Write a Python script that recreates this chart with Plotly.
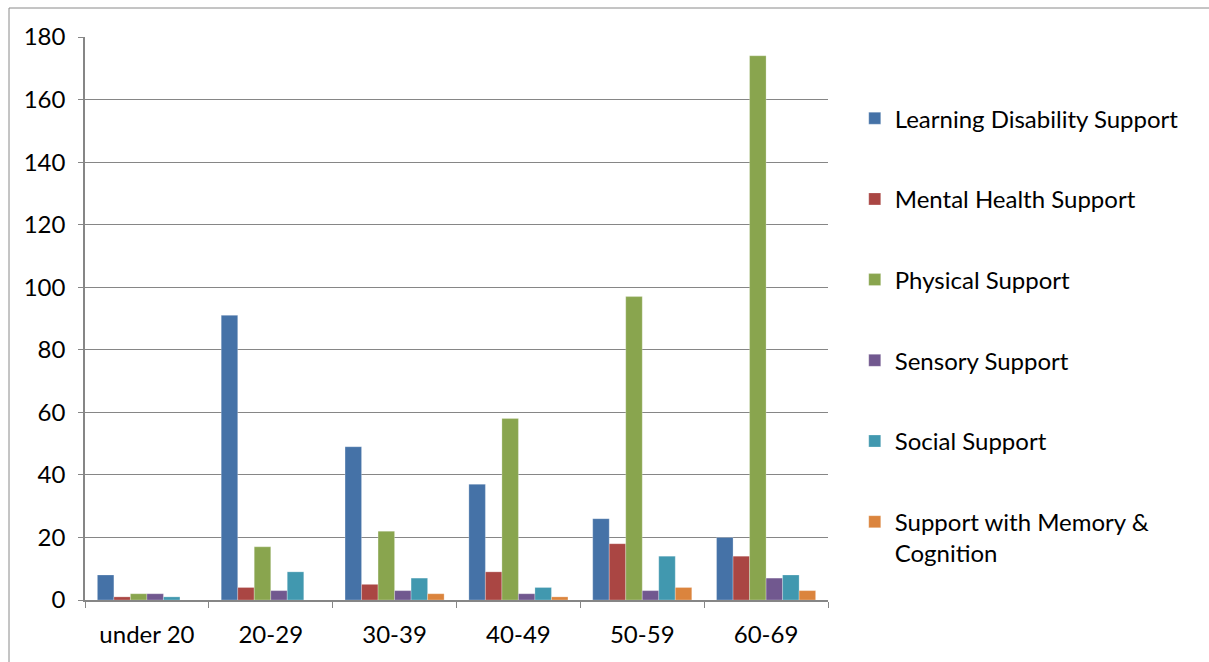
import plotly.graph_objects as go

# Age bands on the category axis
age_groups = ["under 20", "20-29", "30-39", "40-49", "50-59", "60-69"]

# Number of people per primary support reason, by age band
learning_disability = [8, 91, 49, 37, 26, 20]
mental_health = [1, 4, 5, 9, 18, 14]
physical = [2, 17, 22, 58, 97, 174]
sensory = [2, 3, 3, 2, 3, 7]
social = [1, 9, 7, 4, 14, 8]
memory_cognition = [0, 0, 2, 1, 4, 3]

series = [
    ("Learning Disability Support", learning_disability, "#4572A7"),
    ("Mental Health Support", mental_health, "#AA4643"),
    ("Physical Support", physical, "#89A54E"),
    ("Sensory Support", sensory, "#71588F"),
    ("Social Support", social, "#4198AF"),
    ("Support with Memory &<br>Cognition", memory_cognition, "#DB843D"),
]

W, H = 1209, 662
L, R, T, B = 85, 828, 37, 600

fig = go.Figure()
for i, (name, vals, color) in enumerate(series):
    fig.add_trace(go.Bar(
        x=age_groups, y=vals, name=name,
        marker=dict(color=color, line=dict(color="rgba(255,255,255,0.5)", width=0.5)),
        legendgroup=f"g{i}",
    ))

font = "Lato, 'Open Sans', sans-serif"
fsize = 24
grid = "#868686"

fig.update_layout(
    width=W, height=H,
    margin=dict(l=L, r=W - R, t=T, b=H - B, autoexpand=False),
    paper_bgcolor="white", plot_bgcolor="white",
    barmode="group", bargap=0.2, bargroupgap=0,
    font=dict(family=font, size=fsize, color="black"),
    showlegend=True,
    legend=dict(
        x=1.036, xanchor="left", y=0.895, yanchor="top",
        font=dict(family=font, size=fsize, color="black"),
        tracegroupgap=46.5, valign="top", itemwidth=30,
        bgcolor="rgba(0,0,0,0)",
    ),
    xaxis=dict(
        showline=True, linecolor=grid, linewidth=1.5,
        ticks="outside", tickson="boundaries", ticklen=6, tickcolor=grid,
        showgrid=False, tickfont=dict(size=fsize), ticklabelstandoff=12,
    ),
    yaxis=dict(
        range=[0, 180], dtick=20, showline=True, linecolor=grid, linewidth=1.5,
        ticks="outside", ticklen=5, tickcolor=grid,
        showgrid=True, gridcolor=grid, gridwidth=1,
        zeroline=False, tickfont=dict(size=fsize), ticklabelstandoff=8,
    ),
    shapes=[dict(
        type="rect", xref="paper", yref="paper",
        x0=(9 - L) / (R - L), x1=(W + 5 - L) / (R - L),
        y0=(B - (H + 5)) / (B - T), y1=(B - 8) / (B - T),
        line=dict(color="#8a8a8a", width=1), fillcolor="rgba(0,0,0,0)", layer="below",
    )],
)

fig.write_html("out.html")
